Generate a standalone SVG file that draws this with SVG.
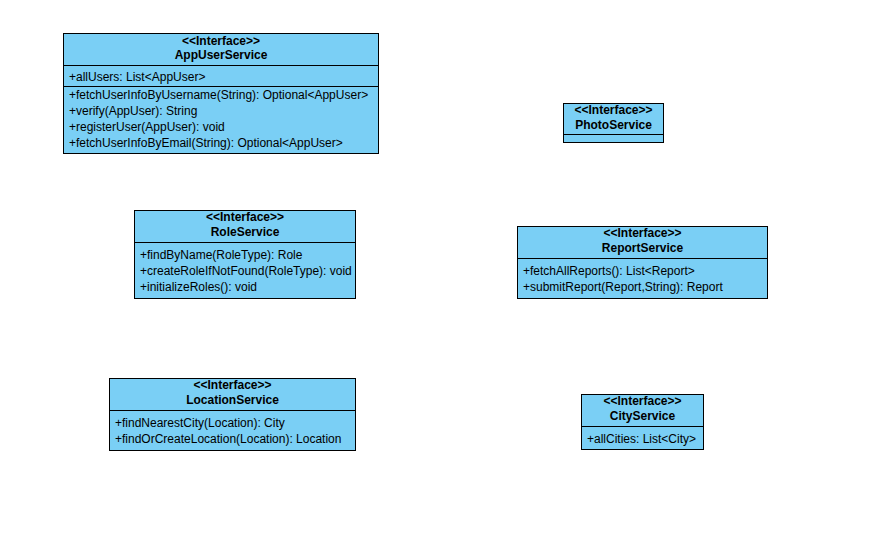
<svg xmlns="http://www.w3.org/2000/svg" width="886" height="539" viewBox="0 0 886 539">
<style>
.box{fill:#7ACFF5;stroke:#000;stroke-width:1}
.div{stroke:#000;stroke-width:1}
text{font-family:"Liberation Sans",Arial,sans-serif;font-size:12px;fill:#000}
.h{font-weight:bold;text-anchor:middle}
</style>
<rect width="886" height="539" fill="#fff"/>
<g id="connectors"></g>
<g id="AppUserService">
<rect class="box" x="63.5" y="33.5" width="315" height="120"/>
<line class="div" x1="63.5" y1="65.5" x2="378.5" y2="65.5"/>
<line class="div" x1="63.5" y1="86.5" x2="378.5" y2="86.5"/>
<text class="h" x="221" y="44.5">&lt;&lt;Interface&gt;&gt;</text>
<text class="h" x="221" y="59">AppUserService</text>
<text x="69" y="80.5">+allUsers: List&lt;AppUser&gt;</text>
<text x="69" y="99">+fetchUserInfoByUsername(String): Optional&lt;AppUser&gt;</text>
<text x="69" y="115">+verify(AppUser): String</text>
<text x="69" y="131">+registerUser(AppUser): void</text>
<text x="69" y="147">+fetchUserInfoByEmail(String): Optional&lt;AppUser&gt;</text>
</g>
<g id="PhotoService">
<rect class="box" x="563.5" y="103.5" width="100" height="39"/>
<line class="div" x1="563.5" y1="134.5" x2="663.5" y2="134.5"/>
<text class="h" x="613.5" y="114">&lt;&lt;Interface&gt;&gt;</text>
<text class="h" x="613.5" y="129">PhotoService</text>
</g>
<g id="RoleService">
<rect class="box" x="134.5" y="210.5" width="221" height="88"/>
<line class="div" x1="134.5" y1="242.5" x2="355.5" y2="242.5"/>
<text class="h" x="245" y="221">&lt;&lt;Interface&gt;&gt;</text>
<text class="h" x="245" y="236">RoleService</text>
<text x="140" y="259">+findByName(RoleType): Role</text>
<text x="140" y="275">+createRoleIfNotFound(RoleType): void</text>
<text x="140" y="291">+initializeRoles(): void</text>
</g>
<g id="ReportService">
<rect class="box" x="517.5" y="226.5" width="250" height="72"/>
<line class="div" x1="517.5" y1="258.5" x2="767.5" y2="258.5"/>
<text class="h" x="642.5" y="237">&lt;&lt;Interface&gt;&gt;</text>
<text class="h" x="642.5" y="252">ReportService</text>
<text x="523" y="275">+fetchAllReports(): List&lt;Report&gt;</text>
<text x="523" y="291">+submitReport(Report,String): Report</text>
</g>
<g id="LocationService">
<rect class="box" x="109.5" y="378.5" width="246" height="72"/>
<line class="div" x1="109.5" y1="410.5" x2="355.5" y2="410.5"/>
<text class="h" x="232.5" y="389">&lt;&lt;Interface&gt;&gt;</text>
<text class="h" x="232.5" y="404">LocationService</text>
<text x="115" y="427">+findNearestCity(Location): City</text>
<text x="115" y="443">+findOrCreateLocation(Location): Location</text>
</g>
<g id="CityService">
<rect class="box" x="581.5" y="394.5" width="122" height="55"/>
<line class="div" x1="581.5" y1="426.5" x2="703.5" y2="426.5"/>
<text class="h" x="642.5" y="405">&lt;&lt;Interface&gt;&gt;</text>
<text class="h" x="642.5" y="420">CityService</text>
<text x="587" y="443">+allCities: List&lt;City&gt;</text>
</g>
</svg>
